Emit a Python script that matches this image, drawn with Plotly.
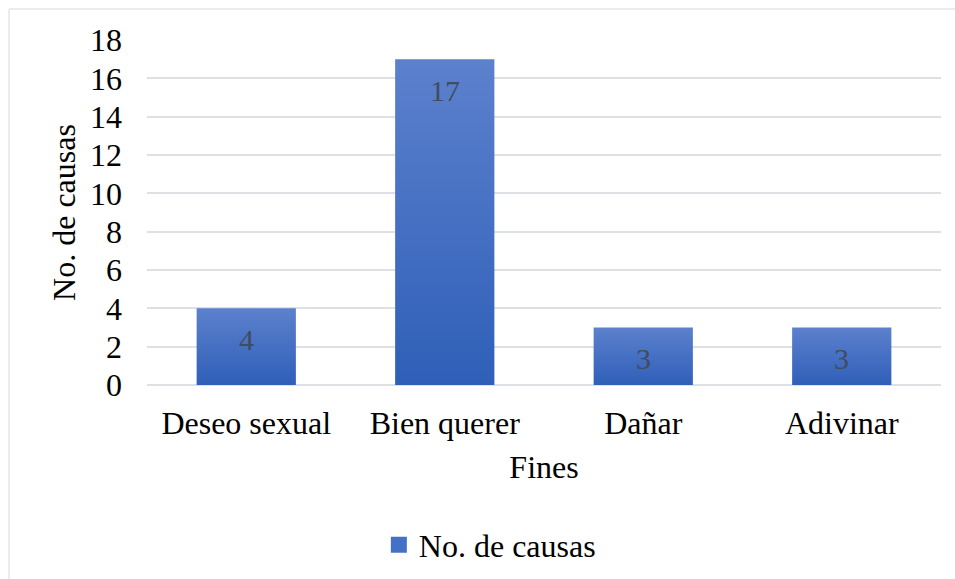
import plotly.graph_objects as go

categories = ["Deseo sexual", "Bien querer", "Dañar", "Adivinar"]
causas = [4, 17, 3, 3]
y_ticks = [0, 2, 4, 6, 8, 10, 12, 14, 16, 18]

FONT = "Liberation Serif"
TOP = "#5c81cd"
BOTTOM = "#2f5fb8"
KEY = "#4470c6"
HALF = 0.25  # half bar width in category units

fig = go.Figure()
# each bar is a filled rectangle with a vertical gradient
for i, (c, v) in enumerate(zip(categories, causas)):
    xs = [i - HALF, i + HALF, i + HALF, i - HALF, i - HALF]
    ys = [0, 0, v, v, 0]
    fig.add_trace(go.Scatter(
        x=xs, y=ys, mode="none", fill="toself",
        fillgradient=dict(type="vertical", colorscale=[[0, BOTTOM], [1, TOP]]),
        name="No. de causas", legendgroup="causas", showlegend=False,
        hoverinfo="skip",
    ))

# legend key for the series
fig.add_trace(go.Scatter(
    x=[None], y=[None], mode="markers", name="No. de causas", legendgroup="causas",
    marker=dict(symbol="square", size=16, color=KEY),
))

# value labels inside each bar, just below its top
for i, v in enumerate(causas):
    fig.add_annotation(x=i, y=v, text=str(v), showarrow=False, yshift=-31,
                       font=dict(family=FONT, size=30, color="#414c5e"))

# chart-area frame
fig.add_shape(type="rect", xref="paper", yref="paper",
              x0=-0.1738, x1=1.03, y0=-0.6, y1=1.0899,
              line=dict(color="#d9d9d9", width=1), fillcolor="rgba(0,0,0,0)", layer="below")

fig.update_layout(
    width=955, height=579,
    margin=dict(l=147, r=14, t=40, b=194, autoexpand=False),
    paper_bgcolor="white", plot_bgcolor="white",
    font=dict(family=FONT, size=32, color="black"),
    showlegend=True,
    legend=dict(orientation="h", x=0.292, xanchor="left",
                yref="container", y=0.059, yanchor="middle",
                font=dict(family=FONT, size=32, color="black"), itemwidth=30),
    xaxis=dict(title=dict(text="Fines", standoff=15, font=dict(family=FONT, size=32)),
               range=[-0.5, len(categories) - 0.5],
               tickvals=list(range(len(categories))), ticktext=categories,
               showgrid=False, showline=False, zeroline=False, ticks="",
               ticklabelstandoff=16, automargin=False,
               tickfont=dict(family=FONT, size=32)),
    yaxis=dict(title=dict(text="No. de causas", standoff=4, font=dict(family=FONT, size=32)),
               range=[0, 18], tickvals=y_ticks, showgrid=True, gridcolor="#dde0e5",
               gridwidth=1.5, zeroline=True, zerolinecolor="#dde0e5", zerolinewidth=1.5,
               showline=False, ticks="", ticklabelstandoff=24, automargin=False,
               tickfont=dict(family=FONT, size=32)),
)

fig.write_html("out.html")
